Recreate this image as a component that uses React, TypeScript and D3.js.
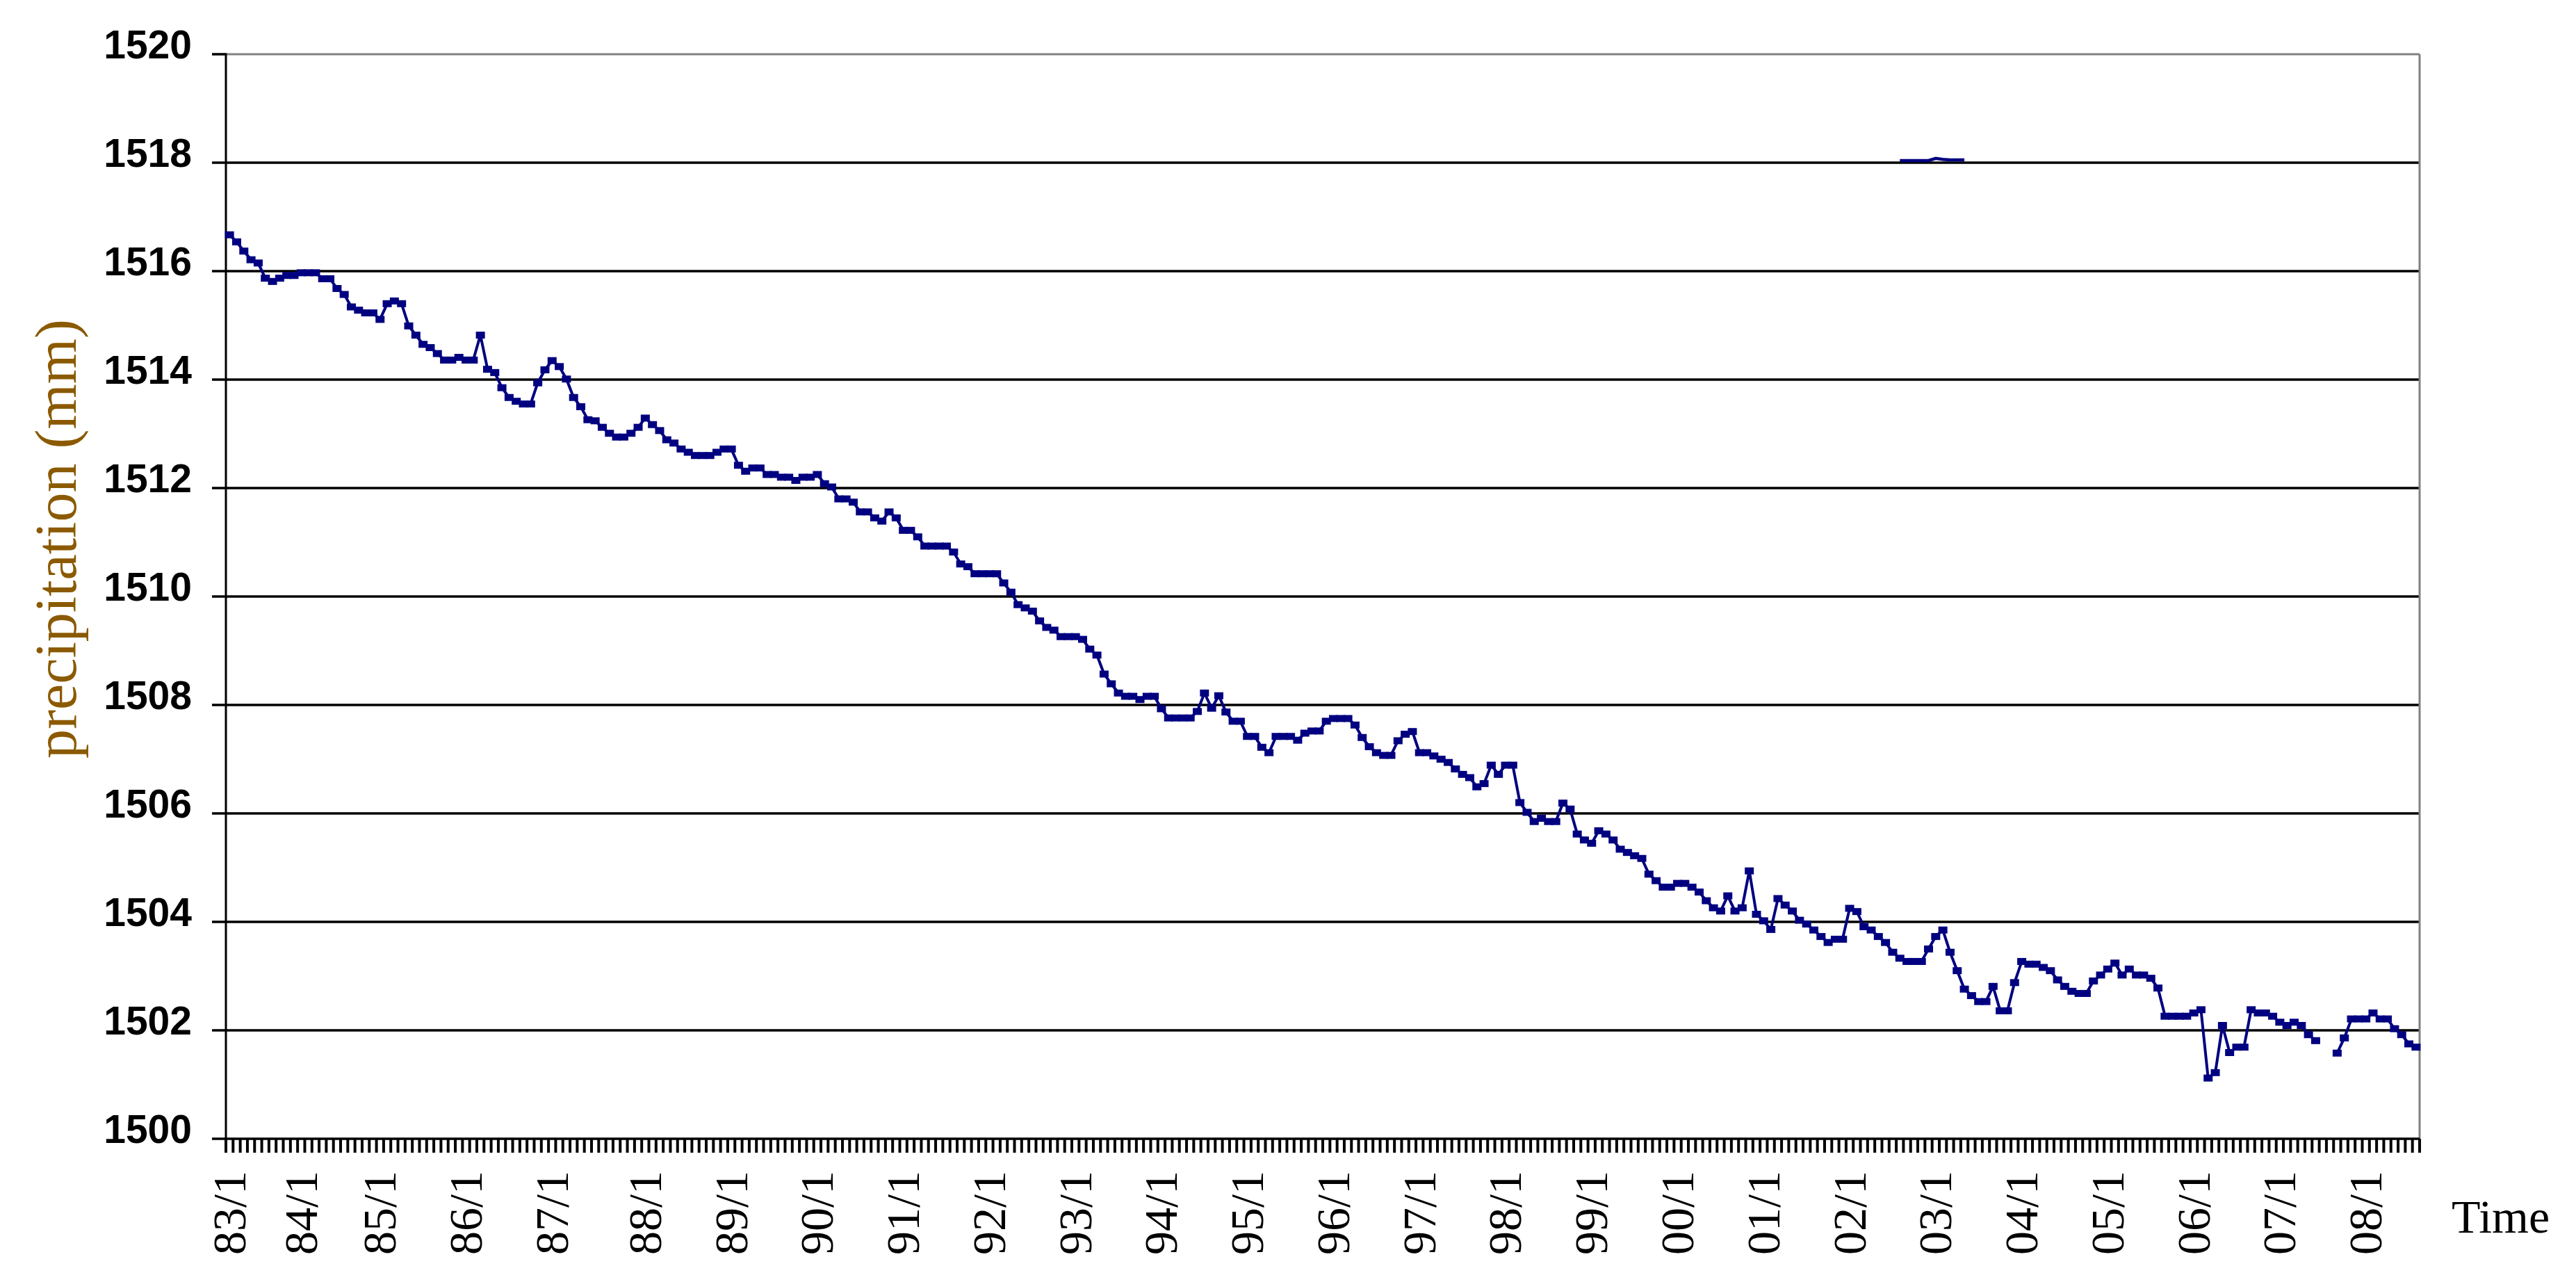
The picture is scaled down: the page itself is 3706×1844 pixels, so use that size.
import React from "react";
import * as d3 from "d3";

// ---- data ----
const yearLabels = [
  "83/1", "84/1", "85/1", "86/1", "87/1", "88/1", "89/1", "90/1", "91/1", "92/1",
  "93/1", "94/1", "95/1", "96/1", "97/1", "98/1", "99/1", "00/1", "01/1", "02/1",
  "03/1", "04/1", "05/1", "06/1", "07/1", "08/1",
];
// category index (month number in the series) where each year label sits
const yearLabelIndex = [
  0, 10, 21, 33, 45, 58, 70, 82, 94, 106, 118, 130, 142, 154, 166, 178, 190, 202,
  214, 226, 238, 250, 262, 274, 286, 298,
];

const yTicks = [1500, 1502, 1504, 1506, 1508, 1510, 1512, 1514, 1516, 1518, 1520];

const precipitation: (number | null)[] = [
  1516.67, 1516.54, 1516.37, 1516.21, 1516.15, 1515.87, 1515.81, 1515.87, 1515.92, 1515.92,
  1515.97, 1515.97, 1515.97, 1515.86, 1515.86, 1515.68, 1515.57, 1515.34, 1515.28, 1515.23,
  1515.23, 1515.11, 1515.40, 1515.45, 1515.40, 1514.99, 1514.82, 1514.65, 1514.59, 1514.48,
  1514.36, 1514.36, 1514.41, 1514.36, 1514.36, 1514.82, 1514.19, 1514.13, 1513.85, 1513.67,
  1513.60, 1513.55, 1513.55, 1513.94, 1514.18, 1514.35, 1514.24, 1514.01, 1513.67, 1513.50,
  1513.26,
  1513.24, 1513.12, 1513.01, 1512.94, 1512.94, 1513.01, 1513.12, 1513.29, 1513.17, 1513.06,
  1512.89, 1512.83, 1512.72, 1512.66, 1512.60, 1512.60, 1512.60, 1512.66, 1512.72, 1512.72,
  1512.42, 1512.31, 1512.37, 1512.37, 1512.25, 1512.25, 1512.20, 1512.20, 1512.14, 1512.20,
  1512.20, 1512.25, 1512.08, 1512.02, 1511.80, 1511.80, 1511.74, 1511.56, 1511.56, 1511.45,
  1511.39, 1511.56, 1511.45, 1511.22, 1511.22, 1511.10, 1510.93, 1510.93, 1510.93, 1510.93,
  1510.82, 1510.60,
  1510.55, 1510.42, 1510.42, 1510.42, 1510.42, 1510.25, 1510.08, 1509.85, 1509.79, 1509.73,
  1509.55, 1509.43, 1509.38, 1509.26, 1509.26, 1509.26, 1509.21, 1509.03, 1508.92, 1508.57,
  1508.39, 1508.22, 1508.16, 1508.16, 1508.10, 1508.16, 1508.16, 1507.93, 1507.76, 1507.76,
  1507.76, 1507.76, 1507.88, 1508.22, 1507.94, 1508.17, 1507.87, 1507.70, 1507.70, 1507.42,
  1507.42, 1507.22, 1507.12, 1507.42, 1507.42, 1507.42, 1507.35, 1507.48, 1507.52, 1507.52,
  1507.70,
  1507.75, 1507.75, 1507.75, 1507.63, 1507.40, 1507.23, 1507.12, 1507.07, 1507.07, 1507.34,
  1507.46, 1507.51, 1507.12, 1507.12, 1507.06, 1507.00, 1506.94, 1506.82, 1506.72, 1506.66,
  1506.49, 1506.55, 1506.89, 1506.72, 1506.89, 1506.89, 1506.20, 1506.02, 1505.85, 1505.91,
  1505.85, 1505.85, 1506.19, 1506.08, 1505.62, 1505.51, 1505.45, 1505.68, 1505.62, 1505.51,
  1505.34, 1505.28, 1505.22, 1505.17, 1504.88, 1504.76, 1504.64, 1504.64, 1504.71, 1504.71,
  1504.64, 1504.55,
  1504.39, 1504.26, 1504.20, 1504.48, 1504.20, 1504.26, 1504.94, 1504.14, 1504.02, 1503.86,
  1504.43, 1504.31, 1504.20, 1504.03, 1503.96, 1503.85, 1503.73, 1503.62, 1503.68, 1503.68,
  1504.25, 1504.19, 1503.91, 1503.85, 1503.73, 1503.62, 1503.44, 1503.33, 1503.27, 1503.27,
  1503.27, 1503.50, 1503.73, 1503.85, 1503.44, 1503.10, 1502.76, 1502.64, 1502.53, 1502.53,
  1502.81, 1502.36, 1502.36, 1502.88, 1503.27, 1503.22, 1503.22, 1503.16, 1503.10, 1502.93,
  1502.81,
  1502.72, 1502.68, 1502.68, 1502.91, 1503.02, 1503.13, 1503.24, 1503.02, 1503.13, 1503.02,
  1503.02, 1502.96, 1502.78, 1502.26, 1502.26, 1502.26, 1502.26, 1502.32, 1502.38, 1501.12,
  1501.22, 1502.09, 1501.59, 1501.69, 1501.69, 1502.38, 1502.32, 1502.32, 1502.26, 1502.15,
  1502.09, 1502.15, 1502.09, 1501.92, 1501.81, null, null, 1501.58, 1501.86, 1502.21,
  1502.21, 1502.21, 1502.32, 1502.21, 1502.21, 1502.03, 1501.92, 1501.75, 1501.69,
];

// short stray segment near 1518 (second series)
const strayStart = 233;
const strayValues = [1518.04, 1518.04, 1518.04, 1518.04, 1518.04, 1518.08, 1518.06, 1518.05, 1518.05, 1518.05];

// ---- layout ----
const W = 3706;
const H = 1844;
const left = 325;
const right = 3481;
const top = 78;
const bottom = 1638;
const NAVY = "#000080";

export default function App() {
  const n = precipitation.length;
  const x = d3
    .scaleBand<number>()
    .domain(d3.range(n))
    .range([left, right])
    .paddingInner(0)
    .paddingOuter(0);
  const bw = x.bandwidth();
  const cx = (i: number) => (x(i) as number) + bw / 2;
  const y = d3.scaleLinear().domain([1500, 1520]).range([bottom, top]);

  const line = d3
    .line<number | null>()
    .defined((d) => d != null)
    .x((_, i) => cx(i))
    .y((d) => y(d as number));

  const strayData: (number | null)[] = d3.range(n).map((i) =>
    i >= strayStart && i < strayStart + strayValues.length ? strayValues[i - strayStart] : null
  );

  const tickXs = d3.range(n + 1).map((k) => (k < n ? (x(k) as number) : (x(n - 1) as number) + bw));

  return (
    <svg
      width={W}
      height={H}
      viewBox={`0 0 ${W} ${H}`}
      style={{ position: "absolute", left: 0, top: 0, background: "#fff", display: "block" }}
    >
      <rect x={0} y={0} width={W} height={H} fill="#fff" />
      {/* gridlines */}
      {yTicks
        .filter((t) => t > 1500 && t < 1520)
        .map((t) => (
          <line key={"g" + t} x1={left} x2={right} y1={y(t)} y2={y(t)} stroke="#000" strokeWidth={3.5} />
        ))}
      {/* plot border top/right */}
      <line x1={left} x2={right} y1={y(1520)} y2={y(1520)} stroke="#808080" strokeWidth={3} />
      <line x1={right} x2={right} y1={top} y2={bottom} stroke="#808080" strokeWidth={3} />
      {/* y axis */}
      <line x1={left} x2={left} y1={top - 1.5} y2={bottom + 1.5} stroke="#000" strokeWidth={3} />
      {yTicks.map((t) => (
        <line key={"yt" + t} x1={left - 20} x2={left} y1={y(t)} y2={y(t)} stroke="#000" strokeWidth={3.5} />
      ))}
      {yTicks.map((t) => (
        <text
          key={"yl" + t}
          x={276}
          y={y(t) + 6}
          textAnchor="end"
          fontFamily="'Liberation Sans', Arial, sans-serif"
          fontWeight="bold"
          fontSize={57}
          fill="#000"
        >
          {t}
        </text>
      ))}
      {/* x axis */}
      <line x1={left} x2={right} y1={bottom} y2={bottom} stroke="#000" strokeWidth={3.5} />
      {tickXs.map((tx, k) => (
        <line key={"xt" + k} x1={tx} x2={tx} y1={bottom} y2={bottom + 20} stroke="#000" strokeWidth={4} />
      ))}
      {yearLabels.map((lab, j) => {
        const px = cx(yearLabelIndex[j]);
        return (
          <text
            key={"xl" + lab}
            transform={`translate(${px},${1684}) rotate(-90)`}
            textAnchor="end"
            dy="0.33em"
            fontFamily="'Liberation Serif', 'Times New Roman', serif"
            fontSize={68}
            fill="#000"
          >
            {lab}
          </text>
        );
      })}
      <text
        x={3527}
        y={1773}
        fontFamily="'Liberation Serif', 'Times New Roman', serif"
        fontSize={68}
        fill="#000"
      >
        Time
      </text>
      {/* y title */}
      <text
        transform={`translate(${80},${775}) rotate(-90)`}
        textAnchor="middle"
        dy="0.35em"
        fontFamily="'Liberation Serif', 'Times New Roman', serif"
        fontSize={84}
        fill="#8B5A00"
      >
        precipitation (mm)
      </text>
      {/* series */}
      <path d={line(precipitation) || ""} fill="none" stroke={NAVY} strokeWidth={4} strokeLinejoin="miter" />
      {precipitation.map((v, i) =>
        v == null ? null : (
          <rect key={"m" + i} x={cx(i) - 6.5} y={y(v) - 5} width={13} height={10} fill={NAVY} />
        )
      )}
      <path d={line(strayData) || ""} fill="none" stroke={NAVY} strokeWidth={4.5} />
    </svg>
  );
}
